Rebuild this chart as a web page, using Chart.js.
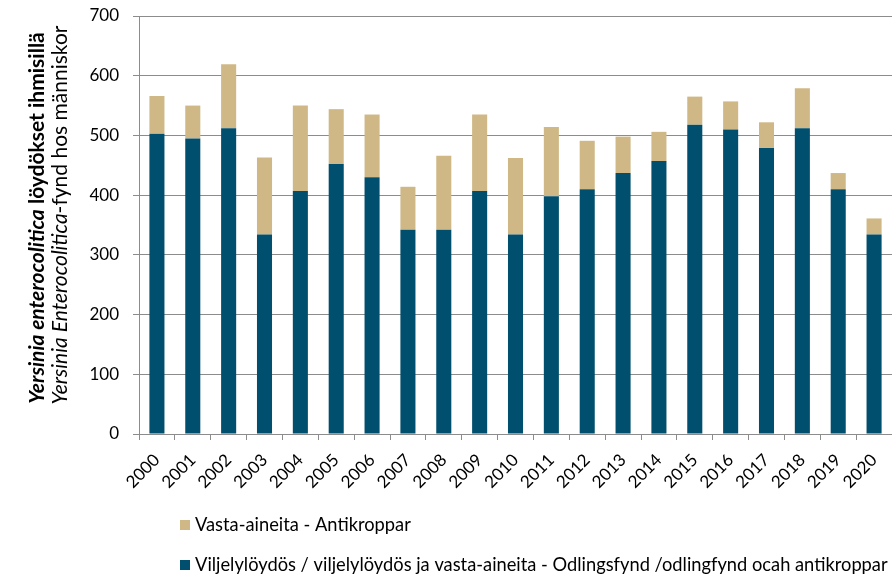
<!DOCTYPE html>
<html>
<head>
<meta charset="utf-8">
<script src="https://cdn.jsdelivr.net/npm/chart.js@4"></script>
<style>
  html, body { margin: 0; padding: 0; background: #fff; }
  #wrap { width: 892px; height: 577px; }
</style>
</head>
<body>
<div id="wrap"><canvas id="myChart" width="892" height="577"></canvas></div>
<script>
// data
var years = ['2000', '2001', '2002', '2003', '2004', '2005', '2006', '2007', '2008', '2009', '2010',
	'2011', '2012', '2013', '2014', '2015', '2016', '2017', '2018', '2019', '2020'];
var culture = [503, 495, 512, 334, 407, 452, 430, 342, 342, 407, 334,
	398, 410, 437, 457, 518, 510, 479, 512, 410, 334];
var antibodies = [63, 55, 107, 129, 143, 92, 105, 72, 124, 128, 128,
	116, 81, 61, 49, 47, 47, 43, 67, 27, 27];
var yTicks = [0, 100, 200, 300, 400, 500, 600, 700];

var cultureLabel = 'Viljelylöydös / viljelylöydös ja vasta-aineita - Odlingsfynd /odlingfynd ocah antikroppar';
var antibodyLabel = 'Vasta-aineita - Antikroppar';

var BLUE = '#004f6e';
var TAN = '#cfb886';
var GRID = '#8c8c8c';
var FONT = 'Lato, "Open Sans", sans-serif';

// y-axis title with mixed bold/italic pieces, two lines
var titleLines = [
	{ x: 37, y: 218, parts: [
		{ text: 'Yersinia enterocolitica', font: 'italic bold 21px ' + FONT },
		{ text: ' löydökset ihmisillä', font: 'bold 21px ' + FONT }
	]},
	{ x: 60, y: 215, parts: [
		{ text: 'Yersinia Enterocolitica', font: 'italic 21px ' + FONT },
		{ text: '-fynd hos människor', font: '21px ' + FONT }
	]}
];

var extras = {
	id: 'extras',
	afterDraw: function (chart) {
		var ctx = chart.ctx;
		ctx.save();
		ctx.fillStyle = '#000';
		ctx.textBaseline = 'middle';
		titleLines.forEach(function (line) {
			var total = 0;
			line.parts.forEach(function (p) { ctx.font = p.font; total += ctx.measureText(p.text).width; });
			ctx.save();
			ctx.translate(line.x, line.y);
			ctx.rotate(-Math.PI / 2);
			var pos = -total / 2;
			line.parts.forEach(function (p) {
				ctx.font = p.font;
				ctx.textAlign = 'left';
				ctx.fillText(p.text, pos, 0);
				pos += ctx.measureText(p.text).width;
			});
			ctx.restore();
		});

		// legend, tan first then blue, stacked and left aligned
		var items = [
			{ label: antibodyLabel, color: TAN, y: 525 },
			{ label: cultureLabel, color: BLUE, y: 565 }
		];
		ctx.font = '18.3px ' + FONT;
		ctx.textAlign = 'left';
		items.forEach(function (it) {
			ctx.fillStyle = it.color;
			ctx.fillRect(180, it.y - 5, 10, 10);
			ctx.fillStyle = '#000';
			ctx.fillText(it.label, 195, it.y);
		});
		ctx.restore();
	}
};

var ctx = document.getElementById('myChart').getContext('2d');
var myChart = new Chart(ctx, {
	type: 'bar',
	data: {
		labels: years,
		datasets: [{
			label: cultureLabel,
			data: culture,
			backgroundColor: BLUE,
			borderWidth: 0,
			barPercentage: 0.42,
			categoryPercentage: 1
		}, {
			label: antibodyLabel,
			data: antibodies,
			backgroundColor: TAN,
			borderWidth: 0,
			barPercentage: 0.42,
			categoryPercentage: 1
		}]
	},
	options: {
		responsive: false,
		animation: false,
		layout: {
			padding: { left: 0, right: 0, top: 16, bottom: 80 }
		},
		plugins: {
			legend: { display: false },
			tooltip: { enabled: false }
		},
		scales: {
			x: {
				stacked: true,
				afterFit: function (scale) {
					scale.height = 63;
					scale.paddingTop = 0;
					scale.paddingRight = 0;
				},
				grid: {
					drawOnChartArea: false,
					color: GRID,
					tickLength: 6
				},
				border: { color: GRID, width: 1 },
				ticks: {
					minRotation: 45,
					maxRotation: 45,
					autoSkip: false,
					padding: 10,
					color: '#000',
					font: { family: FONT, size: 17 }
				}
			},
			y: {
				stacked: true,
				min: 0,
				max: 700,
				afterFit: function (scale) {
					scale.width = 139;
					scale.paddingTop = 0;
				},
				afterBuildTicks: function (scale) {
					scale.ticks = yTicks.map(function (v) { return { value: v }; });
				},
				grid: {
					color: GRID,
					lineWidth: 1,
					tickLength: 6
				},
				border: { color: GRID, width: 1 },
				ticks: {
					padding: 14,
					color: '#000',
					font: { family: FONT, size: 17 }
				}
			}
		}
	},
	plugins: [extras]
});
</script>
</body>
</html>
